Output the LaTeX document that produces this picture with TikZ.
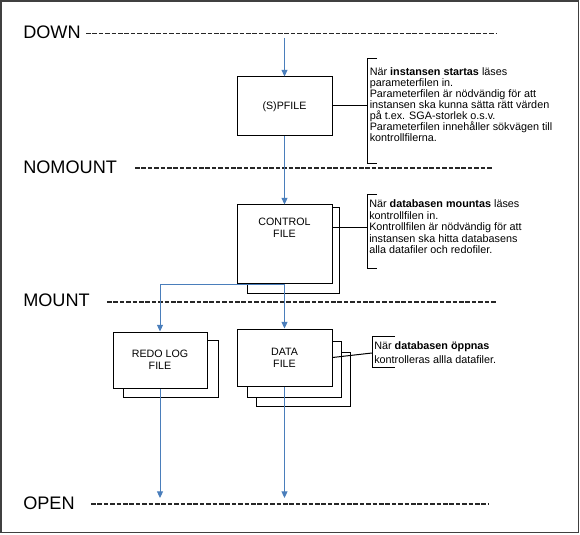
\documentclass[tikz,border=0pt]{standalone}
\usepackage{fontspec}
\setmainfont{Liberation Sans}
\usetikzlibrary{arrows.meta}
\definecolor{flow}{HTML}{4A7EBB}
\definecolor{framegray}{HTML}{404040}
\begin{document}
\begin{tikzpicture}[x=0.75pt,y=-0.75pt,
  filebox/.style={draw=black,line width=0.75pt,fill=white,inner sep=0pt,align=center,font=\fontsize{8}{8.8}\selectfont},
  boxtext/.style={inner sep=0pt,align=center,font=\fontsize{8}{8.8}\selectfont},
  shadowbox/.style={draw=black,line width=0.75pt,fill=white},
  flowline/.style={draw=flow,line width=0.75pt},
  flowarrow/.style={flowline,-{Triangle[length=5pt,width=4.5pt]}},
  statelabel/.style={inner sep=0pt,anchor=west,font=\fontsize{13.6}{16}\selectfont},
  stateline/.style={draw=black!85,line width=1pt,dash pattern=on 3.4pt off 1.4pt},
  note/.style={inner sep=0pt,anchor=north west,align=left},
  bracket/.style={draw=black,line width=0.75pt}]

\useasboundingbox (0,0) rectangle (580,534);
\draw[framegray,line width=1pt] (1,1) rectangle (578.7,532.5);

% state labels and dashed lines
\node[statelabel] (down) at (23,32) {DOWN};
\node[statelabel] (nomount) at (23,167) {NOMOUNT};
\node[statelabel] (mount) at (23,300) {MOUNT};
\node[statelabel] (open) at (23,503) {OPEN};
\draw[stateline] (86,33.5) -- (497,33.5);
\draw[stateline] (135,168) -- (493,168);
\draw[stateline] (107,302) -- (497,302);
\draw[stateline] (91,504) -- (488,504);

% boxes
\node[filebox,minimum width=71.25pt,minimum height=44.25pt] (sp) at (284.5,106.5) {(S)PFILE};

\draw[shadowbox] (247,208) rectangle (339,293);
\node[filebox,minimum width=71.25pt,minimum height=58.5pt] (cf) at (284.5,244) {};
\node[boxtext] (cft) at (284.5,227.5) {CONTROL\\FILE};

\draw[shadowbox] (123,340) rectangle (218,397);
\node[filebox,minimum width=70.5pt,minimum height=42pt] (rf) at (160,360) {REDO LOG\\FILE};

\draw[shadowbox] (256,352) rectangle (350,406);
\draw[shadowbox] (247,341) rectangle (341,397);
\node[filebox,minimum width=71.25pt,minimum height=42.75pt] (df) at (284.5,357.5) {DATA\\FILE};

% flow
\coordinate (start) at (284.5,38);
\coordinate (split) at (284.5,284);
\coordinate (rend) at (160,498);
\coordinate (dend) at (284.5,498);
\draw[flowarrow] (start) -- (sp.north);
\draw[flowarrow] (sp.south) -- (cf.north);
\draw[flowarrow] (cf.south) -- (df.north);
\draw[flowarrow] (split) -| (rf.north);
\draw[flowarrow] (rf.south) -- (rend);
\draw[flowarrow] (df.south) -- (dend);

% callout 1
\coordinate (b1) at (367,106);
\draw[bracket] (377,59) -- (367,59) -- (367,164) -- (377,164);
\draw[bracket] (sp.east |- b1) -- (b1);
\node[note,font=\fontsize{8.1}{8.3}\selectfont] (n1) at (369.5,67) {När \textbf{instansen startas} läses\\parameterfilen in.\\Parameterfilen är nödvändig för att\\instansen ska kunna sätta rätt värden\\på t.ex. SGA-storlek o.s.v.\\Parameterfilen innehåller sökvägen till\\kontrollfilerna.};

% callout 2
\coordinate (b2) at (367,227);
\draw[bracket] (377,195) -- (367,195) -- (367,268) -- (377,268);
\draw[bracket] (cf.east |- b2) -- (b2);
\node[note,font=\fontsize{8.1}{8.7}\selectfont] (n2) at (369,199.5) {När \textbf{databasen mountas} läses\\kontrollfilen in.\\Kontrollfilen är nödvändig för att\\instansen ska hitta databasens\\alla datafiler och redofiler.};

% callout 3
\coordinate (b3) at (372,353);
\draw[bracket] (395,336) -- (372,336) -- (372,367) -- (395,367);
\draw[bracket] (df.east) -- (b3);
\node[note,font=\fontsize{8.1}{10.5}\selectfont] (n3) at (374,341) {När \textbf{databasen öppnas}\\kontrolleras allla datafiler.};
\end{tikzpicture}
\end{document}
